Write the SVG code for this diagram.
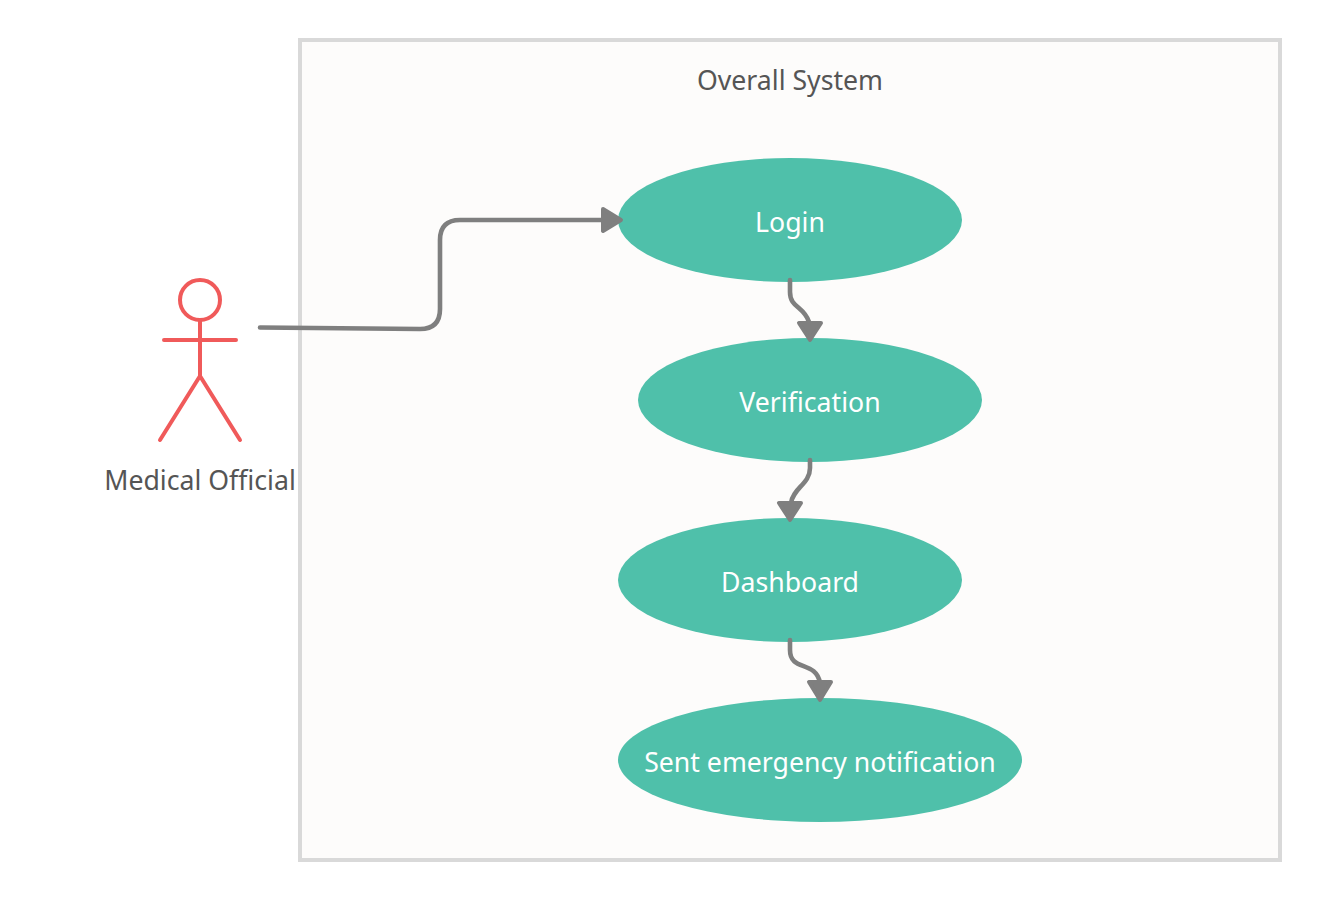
<svg xmlns="http://www.w3.org/2000/svg" width="1320" height="900" viewBox="0 0 1320 900">
<style>
text{font-family:"Noto Sans","Open Sans",sans-serif;font-size:26.67px;text-anchor:middle}
.dark{fill:#555}
.light{fill:#fff}
.uc{fill:#4fc0aa}
.c{fill:none;stroke:#7f7f7f;stroke-width:4.6;stroke-linecap:round}
.a{fill:#7f7f7f;stroke:#7f7f7f;stroke-width:4;stroke-linejoin:round}
.actor{fill:none;stroke:#f05a5a;stroke-width:4;stroke-linecap:round}
</style>
<g id="system"><rect x="300" y="40" width="980" height="820" fill="#fdfcfb" stroke="#d9d9d9" stroke-width="4"/><text class="dark" x="790" y="90">Overall System</text></g>
<g id="actor"><circle class="actor" cx="200" cy="300" r="20"/><path class="actor" d="M164 340H236M200 320V376M200 376L160 440M200 376L240 440"/><text class="dark" x="200" y="490">Medical Official</text></g>
<g id="login"><ellipse class="uc" cx="790" cy="220" rx="172" ry="62"/><text class="light" x="790" y="232">Login</text></g>
<g id="verification"><ellipse class="uc" cx="810" cy="400" rx="172" ry="62"/><text class="light" x="810" y="412">Verification</text></g>
<g id="dashboard"><ellipse class="uc" cx="790" cy="580" rx="172" ry="62"/><text class="light" x="790" y="592">Dashboard</text></g>
<g id="notification"><ellipse class="uc" cx="820" cy="760" rx="202" ry="62"/><text class="light" x="820" y="772">Sent emergency notification</text></g>
<g id="connectors">
<path class="c" d="M260 327.500L420 329Q440 329 440 309V240Q440 220 460 220H604"/><path class="a" d="M603 209L621 220L603 231Z"/>
<path class="c" d="M790 280V292C790 308 804 306 809 322"/><path class="a" d="M799 323H821L810 340Z"/>
<path class="c" d="M810 460V468C810 484 793 488 791 503"/><path class="a" d="M779 503H801L790 520Z"/>
<path class="c" d="M790 640V650C790 672 816 660 820 683"/><path class="a" d="M809 682H831L820 700Z"/>
</g>
</svg>
